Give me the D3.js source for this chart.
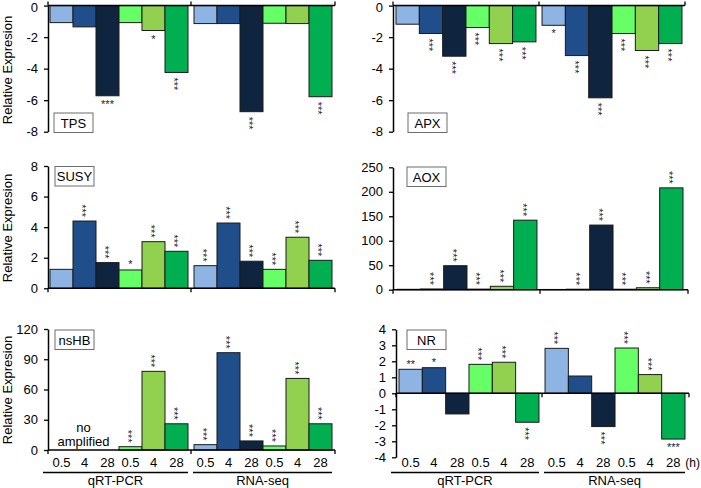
<!DOCTYPE html>
<html><head><meta charset="utf-8">
<script src="https://cdn.jsdelivr.net/npm/d3@7"></script>
<style>body{margin:0;background:#fff}svg{display:block;font-family:"Liberation Sans",Arial,sans-serif}</style>
</head><body><svg id="c" width="701" height="488"></svg>
<script>
// ---------- data ----------
const groups = ["qRT-PCR", "RNA-seq"];
const timeLabels = ["0.5", "4", "28", "0.5", "4", "28"];
const barColors = ["#8db4e2", "#1f4e8a", "#0f243e", "#66ff66", "#92d050", "#00b050"];
const genes = ["TPS", "APX", "SUSY", "AOX", "nsHB", "NR"];
const yTitle = "Relative Expresion";
const unitLabel = "(h)";
const noAmpLabel = ["no", "amplified"];

const tpsQ = [-1.08, -1.35, -5.72, -1.08, -1.58, -4.24];
const tpsR = [-1.14, -1.14, -6.73, -1.12, -1.14, -5.78];
const apxQ = [-1.18, -1.77, -3.21, -1.39, -2.41, -2.30];
const apxR = [-1.25, -3.17, -5.85, -1.77, -2.85, -2.41];
const susyQ = [1.24, 4.40, 1.68, 1.20, 3.05, 2.42];
const susyR = [1.48, 4.27, 1.77, 1.24, 3.34, 1.83];
const aoxQ = [0.8, 1.5, 49, 1.2, 7, 142];
const aoxR = [0.5, 1.0, 132, 1.0, 4, 208];
const nshbQ = [null, null, null, 3.3, 78, 26];
const nshbR = [5.3, 96.5, 9, 4, 71, 26];
const nrQ = [1.5, 1.6, -1.29, 1.81, 1.94, -1.81];
const nrR = [2.81, 1.08, -2.08, 2.83, 1.17, -2.86];

const tpsSigQ = ["", "", "***", "", "*", "***"];
const tpsSigR = ["", "", "***", "", "", "***"];
const apxSigQ = ["", "***", "***", "***", "***", "***"];
const apxSigR = ["*", "***", "***", "***", "***", "***"];
const susySigQ = ["", "***", "***", "*", "***", "***"];
const susySigR = ["***", "***", "***", "***", "***", "***"];
const aoxSigQ = ["", "***", "***", "***", "***", "***"];
const aoxSigR = ["", "***", "***", "***", "***", "***"];
const nshbSigQ = ["", "", "", "***", "***", "***"];
const nshbSigR = ["***", "***", "***", "***", "***", "***"];
const nrSigQ = ["**", "*", "", "***", "***", "***"];
const nrSigR = ["***", "", "***", "***", "***", "***"];

const tpsTicks = [0, -2, -4, -6, -8];
const apxTicks = [0, -2, -4, -6, -8];
const susyTicks = [0, 2, 4, 6, 8];
const aoxTicks = [0, 50, 100, 150, 200, 250];
const nshbTicks = [0, 30, 60, 90, 120];
const nrTicks = [-4, -3, -2, -1, 0, 1, 2, 3, 4];

// ---------- layout (styles / positions) ----------
const panels = [
  {gene: genes[0], q: tpsQ, r: tpsR, sq: tpsSigQ, sr: tpsSigR, ticks: tpsTicks, yr: [131.7, 5.6], ax: 48, bx: [50, 332], end: 335, box: [54, 113], title: 70, bottom: false,
   rot: [[0,0,0,0,0,1],[0,0,1,0,0,1]]},
  {gene: genes[1], q: apxQ, r: apxR, sq: apxSigQ, sr: apxSigR, ticks: apxTicks, yr: [131.7, 5.6], ax: 393, bx: [396, 682], end: 685, box: [408, 113], title: null, bottom: false,
   rot: [[0,1,1,1,1,1],[0,1,1,1,1,1]]},
  {gene: genes[2], q: susyQ, r: susyR, sq: susySigQ, sr: susySigR, ticks: susyTicks, yr: [288.3, 166], ax: 48, bx: [50, 332], end: 335, box: [55, 166.5], title: 228, bottom: false,
   rot: [[0,1,1,0,1,1],[1,1,1,1,1,1]]},
  {gene: genes[3], q: aoxQ, r: aoxR, sq: aoxSigQ, sr: aoxSigR, ticks: aoxTicks, yr: [289.7, 167.3], ax: 393, bx: [397, 683], end: 688, box: [407, 167], title: null, bottom: false,
   rot: [[1,1,1,1,1,1],[1,1,1,1,1,1]]},
  {gene: genes[4], q: nshbQ, r: nshbR, sq: nshbSigQ, sr: nshbSigR, ticks: nshbTicks, yr: [450, 329], ax: 48, bx: [50, 332], end: 335, box: [55, 330], title: 390, bottom: true, noAmp: true,
   rot: [[1,1,1,1,1,1],[1,1,1,1,1,1]]},
  {gene: genes[5], q: nrQ, r: nrR, sq: nrSigQ, sr: nrSigR, ticks: nrTicks, yr: [457.3, 329.3], ax: 396, bx: [399, 685], end: 689, box: [407, 330], title: null, bottom: true, unit: true,
   rot: [[0,0,0,1,1,1],[1,1,1,1,1,0]]}
];

const svg = d3.select("#c");
const starSize = 11;

panels.forEach(p => {
  const g = svg.append("g");
  const y = d3.scaleLinear().domain(d3.extent(p.ticks)).range(p.yr);
  const xg = d3.scaleBand().domain(groups).range(p.bx).paddingInner(6 / 144);
  const xi = d3.scaleBand().domain(d3.range(6)).range([0, xg.bandwidth()]);
  const y0 = y(0);

  const recs = [];
  groups.forEach((grp, gi) => {
    const vals = gi === 0 ? p.q : p.r;
    const sigs = gi === 0 ? p.sq : p.sr;
    vals.forEach((v, i) => recs.push({grp, gi, i, v, s: sigs[i], rot: p.rot[gi][i]}));
  });
  const data = recs.filter(d => d.v != null);
  const cx = d => xg(d.grp) + xi(d.i) + xi.bandwidth() / 2;

  g.selectAll("rect.bar").data(data).join("rect")
    .attr("class", "bar")
    .attr("x", d => xg(d.grp) + xi(d.i))
    .attr("width", xi.bandwidth())
    .attr("y", d => Math.min(y(d.v), y0))
    .attr("height", d => Math.abs(y(d.v) - y0))
    .attr("fill", d => barColors[d.i])
    .attr("stroke", "#1a1a1a")
    .attr("stroke-width", 1);

  // significance stars
  g.selectAll("text.sig").data(data.filter(d => d.s)).join("text")
    .attr("class", "sig")
    .attr("font-size", starSize)
    .attr("fill", "#222")
    .text(d => d.s)
    .each(function (d) {
      const t = d3.select(this);
      const c = cx(d);
      const yv = y(d.v);
      if (d.rot) {
        if (d.v >= 0) {
          t.attr("text-anchor", "end").attr("transform", `translate(${c - 6.3},${yv - 4}) rotate(90)`);
        } else {
          t.attr("text-anchor", "start").attr("transform", `translate(${c - 6.3},${yv + 5}) rotate(90)`);
        }
      } else {
        t.attr("text-anchor", "middle").attr("x", c).attr("y", d.v >= 0 ? yv - 1.5 : yv + 12);
      }
    });

  // x axis line at zero
  const mid = (xg(groups[0]) + xg.bandwidth() + xg(groups[1])) / 2;
  const dir = d3.max(p.ticks) <= 0 ? -1 : 1;
  g.append("line").attr("x1", p.ax).attr("x2", p.end).attr("y1", y0).attr("y2", y0)
    .attr("stroke", "#000").attr("stroke-width", 1.5);
  [p.ax, mid, p.end].forEach(tx => {
    g.append("line").attr("x1", tx).attr("x2", tx).attr("y1", y0).attr("y2", y0 + dir * 4)
      .attr("stroke", "#000").attr("stroke-width", 1.3);
  });

  // y axis
  const ya = g.append("g").attr("transform", `translate(${p.ax},0)`)
    .call(d3.axisLeft(y).tickValues(p.ticks).tickSize(4).tickPadding(6).tickSizeOuter(0).tickFormat(d => String(d)));
  ya.select(".domain").attr("stroke-width", 1.5);
  ya.selectAll(".tick line").attr("stroke-width", 1.3);
  ya.selectAll(".tick text").attr("font-size", 13).attr("fill", "#000").attr("font-family", "Liberation Sans, Arial, sans-serif")
    .filter(d => y(d) < 10).attr("dy", "0.45em");

  // gene box
  g.append("rect").attr("x", p.box[0]).attr("y", p.box[1]).attr("width", 39).attr("height", 19.5)
    .attr("fill", "#fff").attr("stroke", "#6d6d6d").attr("stroke-width", 1);
  g.append("text").attr("x", p.box[0] + 19.5).attr("y", p.box[1] + 14.5).attr("text-anchor", "middle")
    .attr("font-size", 13).text(p.gene);

  if (p.title != null) {
    g.append("text").attr("transform", `translate(12,${p.title}) rotate(-90)`).attr("text-anchor", "middle")
      .attr("font-size", 13).text(yTitle);
  }

  if (p.noAmp) {
    const nx = (xg(groups[0]) + xi(0) + xg(groups[0]) + xi(2) + xi.bandwidth()) / 2 - 1;
    g.append("text").attr("x", nx).attr("y", 432).attr("text-anchor", "middle").attr("font-size", 13).text(noAmpLabel[0]);
    g.append("text").attr("x", nx).attr("y", 446).attr("text-anchor", "middle").attr("font-size", 13).text(noAmpLabel[1]);
  }

  if (p.bottom) {
    groups.forEach((grp, gi) => {
      d3.range(6).forEach(i => {
        g.append("text").attr("x", xg(grp) + xi(i) + xi.bandwidth() / 2).attr("y", 467)
          .attr("text-anchor", "middle").attr("font-size", 13).text(timeLabels[i]);
      });
      const bx0 = gi === 0 ? p.ax - 5 : xg(grp) - 1;
      const bx1 = xg(grp) + xg.bandwidth();
      g.append("line").attr("x1", bx0).attr("x2", bx1).attr("y1", 472.5).attr("y2", 472.5)
        .attr("stroke", "#000").attr("stroke-width", 1.5);
      g.append("text").attr("x", (bx0 + bx1) / 2).attr("y", 485).attr("text-anchor", "middle")
        .attr("font-size", 13).text(grp);
    });
    if (p.unit) {
      g.append("text").attr("x", 700).attr("y", 467).attr("text-anchor", "end").attr("font-size", 12).text(unitLabel);
    }
  }
});
</script>
</body></html>
